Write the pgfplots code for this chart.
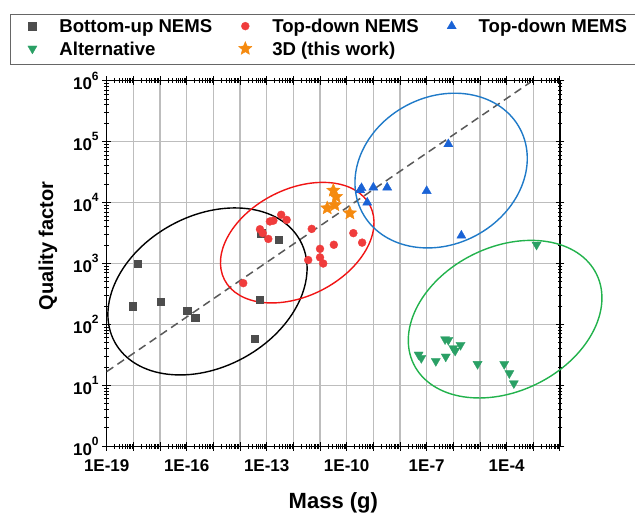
\documentclass[border=0pt]{standalone}
\usepackage{pgfplots}
\pgfplotsset{compat=1.18}
\usepackage{fontspec}
\setmainfont{Liberation Sans}
\usetikzlibrary{plotmarks}

\definecolor{cgray}{HTML}{4D4D4D}
\definecolor{cred}{HTML}{F03C3C}
\definecolor{cblue}{HTML}{1A63D6}
\definecolor{cgreen}{HTML}{2AA065}
\definecolor{corange}{HTML}{F58A0F}
\definecolor{eblue}{HTML}{1F7AC8}
\definecolor{egreen}{HTML}{22B24C}
\definecolor{ered}{HTML}{F01414}
\definecolor{gridc}{HTML}{BDBDBD}

\pgfdeclareplotmark{fstar}{%
  \pgfpathmoveto{\pgfpointpolar{90}{\pgfplotmarksize}}%
  \pgfpathlineto{\pgfpointpolar{126}{0.45\pgfplotmarksize}}%
  \pgfpathlineto{\pgfpointpolar{162}{\pgfplotmarksize}}%
  \pgfpathlineto{\pgfpointpolar{198}{0.45\pgfplotmarksize}}%
  \pgfpathlineto{\pgfpointpolar{234}{\pgfplotmarksize}}%
  \pgfpathlineto{\pgfpointpolar{270}{0.45\pgfplotmarksize}}%
  \pgfpathlineto{\pgfpointpolar{306}{\pgfplotmarksize}}%
  \pgfpathlineto{\pgfpointpolar{342}{0.45\pgfplotmarksize}}%
  \pgfpathlineto{\pgfpointpolar{18}{\pgfplotmarksize}}%
  \pgfpathlineto{\pgfpointpolar{54}{0.45\pgfplotmarksize}}%
  \pgfpathclose
  \pgfusepathqfillstroke}

\newcommand{\tp}[1]{10\raisebox{0.55em}{\fontsize{12}{12}\selectfont #1}}

\pgfplotsset{
  mylegend/.style={legend image code/.code={%
      \path[draw=none,fill=none] (0pt,-5pt) rectangle (16pt,5pt);
      \draw[##1] plot coordinates {(8pt,2pt)};}},
}

\begin{document}
\begin{tikzpicture}[x=1pt,y=1pt]
\path[use as bounding box] (0,0) rectangle (635,514);
\begin{axis}[
  at={(106.7pt,67.7pt)}, anchor=south west,
  scale only axis, width=453.3pt, height=365.6pt,
  xmode=log, ymode=log,
  xmin=1e-19, xmax=1e-2, ymin=1, ymax=1e6,
  xtickten={-19,...,-2},
  ytickten={0,...,6},
  xticklabels={1E-19,,,1E-16,,,1E-13,,,1E-10,,,1E-7,,,1E-4,,},
  yticklabels={\tp{0},\tp{1},\tp{2},\tp{3},\tp{4},\tp{5},\tp{6}},
  ticklabel style={font=\bfseries\fontsize{17}{17}\selectfont},
  xticklabel style={yshift=-5pt},
  grid=major,
  major grid style={gridc, line width=1.2pt},
  axis line style={black, line width=1.4pt},
  tick style={black, line width=1pt},
  tick align=center,
  major tick length=9pt,
  minor tick length=5pt,
  xlabel={Mass (g)},
  ylabel={Quality factor},
  xlabel style={font=\bfseries\fontsize{22}{22}\selectfont, at={(axis description cs:0.5,-0.1688)}, anchor=base},
  ylabel style={font=\bfseries\fontsize{20}{20}\selectfont, at={(axis description cs:-0.1295,0.548)}, anchor=center},
  clip=false,
  legend columns=3,
  legend cell align=left,
  legend style={at={(axis description cs:-0.2133,1.1825)}, anchor=north west,
    draw=gray!80!black, line width=0.8pt,
    font=\bfseries\fontsize{18.6}{20}\selectfont,
    inner xsep=14pt, inner ysep=4pt, row sep=3pt,
    nodes={inner xsep=0pt, inner ysep=1pt, text height=13.5pt, text depth=4pt},
    /tikz/every odd column/.append style={column sep=19pt},
    /tikz/every even column/.append style={column sep=25pt}},
]
% trend line
\addplot[forget plot, color=black!65, line width=1.5pt, dash pattern=on 8pt off 5pt] coordinates {(1e-19,16.8) (7.4e-4,9.3e5)};

% Bottom-up NEMS
\addplot[only marks, mark=square*, mark size=3.7pt, color=cgray, mark options={fill=cgray, line width=0.5pt}, mylegend] coordinates {
(1.45e-18,1000) (9.3e-19,200) (1.05e-17,234) (1.05e-16,166) (2.1e-16,128)
(5.6e-14,252) (3.5e-14,58) (2.9e-13,2450) (6.3e-14,3150)};
\addlegendentry{Bottom-up NEMS}

% Top-down NEMS
\addplot[only marks, mark=*, mark size=4pt, color=cred, mark options={fill=cred, line width=0.3pt}, mylegend] coordinates {
(1.32e-14,476) (5.6e-14,3650) (7.1e-14,3150) (1.15e-13,2530) (1.32e-13,4900)
(1.78e-13,5050) (3.5e-13,6300) (5.6e-13,5200) (4.9e-12,3700) (1.0e-11,1740)
(3.6e-12,1140) (1.0e-11,1260) (1.32e-11,1000) (3.3e-11,2030) (1.78e-10,3150) (3.8e-10,2200)};
\addlegendentry{Top-down NEMS}

% Top-down MEMS
\addplot[only marks, mark=triangle*, mark size=5.3pt, color=cblue, mark options={fill=cblue, line width=0.3pt}, mylegend] coordinates {
(3.6e-10,17300) (3.2e-10,16000) (1e-9,17700) (3.3e-9,17700) (1e-7,15500) (6.5e-7,91000)
(5.9e-10,10000) (2.0e-6,2870)};
\addlegendentry{Top-down MEMS}

% Alternative
\addplot[only marks, mark=triangle*, mark size=5.3pt, color=cgreen, mark options={fill=cgreen, rotate=180, line width=0.3pt}, mylegend] coordinates {
(1.32e-3,2030) (5e-8,32) (6.3e-8,28) (2.2e-7,25) (5.2e-7,29.6) (4.9e-7,57)
(6.5e-7,55.6) (1e-6,40.7) (1.17e-6,37) (1.86e-6,46) (8.1e-6,22.4)
(8.1e-5,22.3) (1.26e-4,15.8) (1.86e-4,10.8)};
\addlegendentry{Alternative}

% 3D (this work)
\addplot[only marks, mark=fstar, mark size=7pt, color=corange, mark options={fill=corange, line width=0.4pt}, mylegend] coordinates {
(3.16e-11,15800) (4.0e-11,12500) (3.6e-11,9100) (1.86e-11,8100) (1.32e-10,6700)};
\addlegendentry{3D (this work)}

% group ellipses
\draw[black, line width=1.4pt, rotate around={28.7:(axis cs:6.03e-16,348)}] (axis cs:6.03e-16,348) ellipse [x radius=105.7pt, y radius=75.6pt];
\draw[ered, line width=1.4pt, rotate around={26.9:(axis cs:1.40e-12,2198)}] (axis cs:1.40e-12,2198) ellipse [x radius=81.7pt, y radius=53.4pt];
\draw[eblue, line width=1.4pt, rotate around={27.8:(axis cs:3.48e-7,33500)}] (axis cs:3.48e-7,33500) ellipse [x radius=89.3pt, y radius=73.7pt];
\draw[egreen, line width=1.4pt, rotate around={26.2:(axis cs:8.75e-5,122)}] (axis cs:8.75e-5,122) ellipse [x radius=101.9pt, y radius=72.1pt];
\end{axis}
\end{tikzpicture}
\end{document}
